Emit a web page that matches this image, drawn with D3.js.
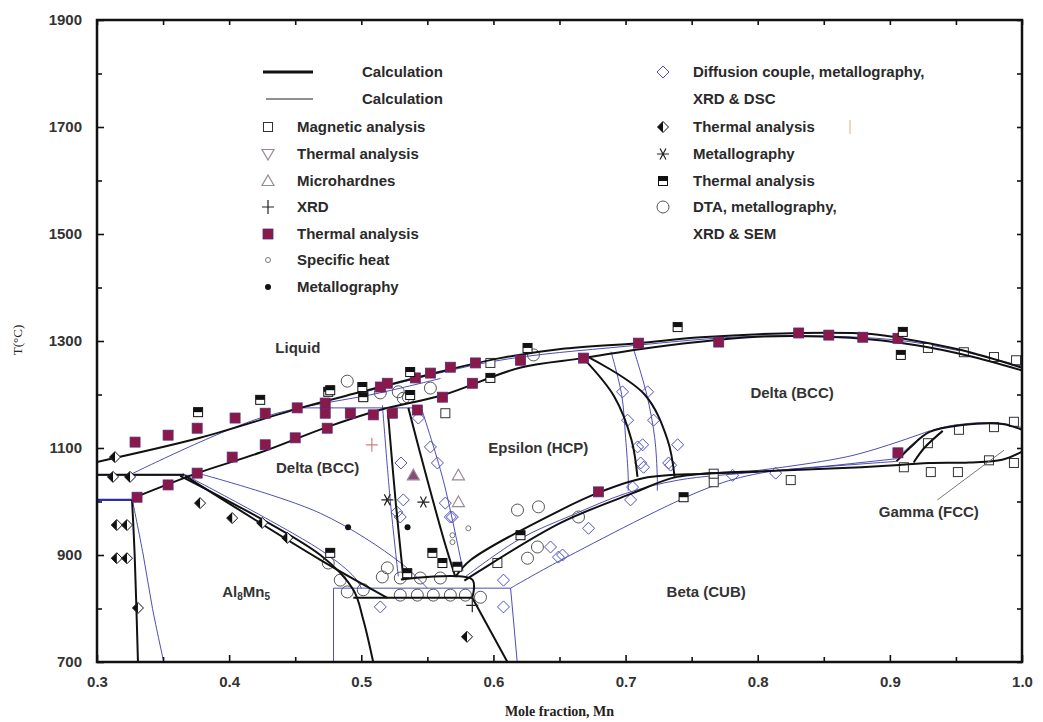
<!DOCTYPE html>
<html>
<head>
<meta charset="utf-8">
<script src="https://cdn.jsdelivr.net/npm/d3@7"></script>
<style>
body { margin: 0; background: #fff; }
text { font-family: "Liberation Sans", Arial, sans-serif; }
</style>
</head>
<body>
<svg id="chart" width="1043" height="722"></svg>
<script>
// ---- axis ticks ----
var xTicks = [0.3, 0.4, 0.5, 0.6, 0.7, 0.8, 0.9, 1.0];
var xMinor = [0.35, 0.45, 0.55, 0.65, 0.75, 0.85, 0.95];
var yTicks = [700, 900, 1100, 1300, 1500, 1700, 1900];
var yMinor = [800, 1000, 1200, 1400, 1600, 1800];

// ---- calculated boundaries, thick black (x = mole fraction Mn, T in C) ----
var liquidus = [[0.30,1074],[0.378,1119],[0.454,1175],[0.50,1205],[0.552,1238],[0.605,1268],[0.651,1285],[0.709,1296],[0.757,1307],[0.833,1315],[0.886,1313],[0.916,1302],[0.954,1283],[1.0,1250]];
var deltaSolidus = [[0.329,1008],[0.376,1053],[0.423,1091],[0.474,1139],[0.514,1171],[0.562,1199],[0.62,1250],[0.668,1268],[0.72,1288],[0.80,1308],[0.87,1306],[0.92,1292],[0.96,1272],[1.0,1245]];
var peritectic1050 = [[0.30,1050],[0.366,1050]];
var leftVertical = [[0.3265,1003],[0.3285,900],[0.331,700]];
var al8mn5Upper = [[0.3629,1048],[0.469,900],[0.494,835],[0.5015,779],[0.509,700]];
var al8mn5Lower = [[0.3667,1048],[0.469,891],[0.5197,820]];
var eutectoid820 = [[0.494,820],[0.584,820]];
var eutectoid853 = [[0.53,854],[0.584,854],[0.584,820]];
var rightLower = [[0.584,820],[0.6106,700]];
var epsLeft1 = [[0.52,1171],[0.526,1000],[0.532,853]];
var epsLeft2 = [[0.5356,1175],[0.55,1040],[0.5636,919],[0.5712,859]];
var betaUpper = [[0.5712,859],[0.583,891],[0.6508,984],[0.681,1018],[0.714,1044],[0.76,1052],[0.80,1056],[0.86,1062],[0.907,1068]];
var betaLower = [[0.578,852],[0.588,868],[0.6508,960],[0.706,1016],[0.739,1046],[0.80,1056]];
var gammaLower = [[0.907,1068],[0.93,1072],[0.96,1073],[0.985,1078],[1.0,1093]];
var gammaUpper = [[0.905,1075],[0.915,1100],[0.93,1130],[0.955,1143],[0.985,1145],[1.0,1134]];
var gammaInner = [[0.918,1073],[0.926,1100],[0.94,1132]];
var epsRight1 = [[0.668,1268],[0.6915,1196],[0.7045,1115],[0.709,1046]];
var epsRight2 = [[0.6712,1271],[0.7144,1200],[0.7318,1115],[0.7371,1046]];

// ---- calculated boundaries, thin blue ----
var bLiquidus = [[0.50,1203],[0.60,1262],[0.70,1290],[0.80,1309],[0.90,1303],[0.95,1283],[1.0,1253]];
var bPeritectic = [[0.30,1049],[0.376,1049]];
var bLow1003 = [[0.30,1003],[0.327,1003]];
var bLeftCurve = [[0.327,1000],[0.335,900],[0.342,800],[0.3505,700]];
var bToLiquidus = [[0.325,1050],[0.4235,1156],[0.514,1203],[0.56,1230]];
var b1175 = [[0.45,1175],[0.545,1175]];
var bDiag1 = [[0.376,1053],[0.469,978],[0.53,885],[0.55,838]];
var bDiag2 = [[0.365,1052],[0.47,908],[0.495,858],[0.50,838]];
var bEutectoid = [[0.479,838],[0.613,838]];
var bVert479 = [[0.479,838],[0.479,700]];
var bVert613 = [[0.613,838],[0.618,700]];
var bEps1 = [[0.516,1180],[0.522,1000],[0.528,860]];
var bEps2 = [[0.545,1178],[0.562,1040],[0.577,870]];
var bBeta1 = [[0.613,838],[0.6508,890],[0.762,1025],[0.802,1053],[0.86,1068],[0.905,1080]];
var bBeta2 = [[0.578,858],[0.62,930],[0.66,975],[0.70,1015],[0.74,1040],[0.80,1055],[0.905,1075]];
var bGamma1 = [[0.905,1080],[0.93,1130],[0.96,1146],[0.985,1146],[1.0,1138]];
var bGamma2 = [[0.78,1052],[0.87,1085],[0.93,1132]];
var bDelta1 = [[0.689,1280],[0.697,1200],[0.70,1120],[0.702,1046],[0.702,1020]];
var bDelta2 = [[0.706,1285],[0.716,1200],[0.722,1120],[0.724,1046],[0.724,1020]];

var blackCurves = [liquidus, deltaSolidus, peritectic1050, leftVertical, al8mn5Upper, al8mn5Lower,
    eutectoid820, eutectoid853, rightLower, epsLeft1, epsLeft2, betaUpper, betaLower,
    gammaLower, gammaUpper, gammaInner, epsRight1, epsRight2];
var blueCurves = [bLiquidus, bPeritectic, bToLiquidus, b1175, bDiag1, bDiag2, bEutectoid,
    bVert479, bVert613, bEps1, bEps2, bBeta1, bBeta2, bGamma1, bGamma2, bDelta1, bDelta2, bLeftCurve];

// ---- experimental points ----
var magnetic = [[0.9288,1287],[0.956,1279],[0.9788,1270],[0.9955,1264],[0.9523,1134],[0.9788,1139],[0.9939,1149],
    [0.9288,1109],[0.9106,1064],[0.931,1055],[0.9515,1055],[0.975,1077],[0.9939,1072],[0.825,1040],
    [0.7667,1036],[0.7667,1052],[0.5636,1165],[0.5977,1259],[0.603,885],[0.5015,1198]];
var microhard = [[0.5735,1049],[0.5735,999]];
var microhardFilled = [[0.5394,1049]];
var xrd = [[0.584,806]];
var xrdPink = [[0.508,1106]];
var thermalSq = [[0.3288,1111],[0.3538,1124],[0.3758,1137],[0.4045,1156],[0.4273,1165],[0.4515,1175],[0.4727,1184],
    [0.4727,1165],[0.4917,1165],[0.5091,1162],[0.4742,1137],[0.45,1119],[0.4273,1106],[0.4023,1083],[0.3758,1053],
    [0.3538,1031],[0.3303,1008],[0.5235,1165],[0.5144,1214],[0.5197,1221],[0.5409,1231],[0.5523,1240],[0.5674,1251],
    [0.5864,1259],[0.5614,1195],[0.5424,1171],[0.5841,1221],[0.6205,1264],[0.6682,1268],[0.7098,1296],[0.6795,1018],
    [0.7705,1298],[0.831,1315],[0.8538,1311],[0.8795,1307],[0.9061,1305],[0.9061,1091]];
var specificHeat = [[0.569,924],[0.569,937],[0.581,950]];
var metalloDot = [[0.490,952],[0.535,952]];
var diffusion = [[0.6977,1205],[0.7167,1205],[0.7015,1152],[0.7212,1152],[0.7091,1102],[0.7341,1068],[0.7136,1064],
    [0.7129,1106],[0.7394,1106],[0.7114,1072],[0.7326,1072],[0.7053,1027],[0.7038,1003],[0.781,1049],[0.8136,1053],
    [0.5523,1102],[0.5576,1072],[0.5318,1003],[0.5674,971],[0.6492,896],[0.672,950],[0.6076,803],[0.5144,803],
    [0.6076,853],[0.6523,900],[0.5295,971],[0.5689,971],[0.6432,915],[0.5636,997],[0.53,1072],[0.5432,1156],[0.527,980]];
var thermalHalfDiamond = [[0.3136,1083],[0.3121,1046],[0.325,1046],[0.315,956],[0.3227,956],[0.315,894],[0.3227,894],
    [0.331,801],[0.378,997],[0.4023,969],[0.425,960],[0.444,932],[0.580,747]];
var metalloStar = [[0.5197,1003],[0.547,999]];
var thermalHalfSq = [[0.3765,1167],[0.4235,1190],[0.475,1205],[0.5015,1195],[0.4765,1208],[0.5008,1214],[0.537,1242],
    [0.5977,1231],[0.537,1199],[0.6258,1287],[0.7394,1326],[0.9098,1317],[0.9083,1274],[0.7439,1008],[0.4765,904],
    [0.5538,904],[0.6205,937],[0.5614,885],[0.5727,878],[0.5348,866]];
var dta = [[0.4894,1225],[0.5144,1203],[0.528,1205],[0.5523,1212],[0.5356,1195],[0.5318,1193],[0.6182,984],[0.6341,990],
    [0.6333,915],[0.6258,894],[0.5295,825],[0.5424,825],[0.5545,825],[0.5674,825],[0.5788,825],[0.5295,857],[0.5447,857],
    [0.5598,857],[0.5159,859],[0.5197,876],[0.4894,831],[0.4841,853],[0.5902,821],[0.6644,971],[0.475,885],[0.5015,835],
    [0.6303,1274]];

// ---- labels ----
var regionLabels = [
    {text: "Liquid", x: 0.452, t: 1287},
    {text: "Delta (BCC)", x: 0.467, t: 1063},
    {text: "Epsilon (HCP)", x: 0.634, t: 1100},
    {text: "Delta (BCC)", x: 0.826, t: 1203},
    {text: "Beta (CUB)", x: 0.761, t: 831},
    {text: "Gamma (FCC)", x: 0.9295, t: 980}
];
var gammaLeader = [[0.936,1003],[0.9864,1096]];
var legendLeft = ["Calculation", "Calculation", "Magnetic analysis", "Thermal analysis", "Microhardnes", "XRD",
    "Thermal analysis", "Specific heat", "Metallography"];
var legendRight = ["Diffusion couple, metallography,", "XRD & DSC", "Thermal analysis", "Metallography",
    "Thermal analysis", "DTA, metallography,", "XRD & SEM"];

var svg = d3.select("#chart"),
    pL = 97, pR = 1022, pT = 20, pB = 662;

var x = d3.scaleLinear().domain([0.3, 1.0]).range([pL, pR]);
var y = d3.scaleLinear().domain([700, 1900]).range([pB, pT]);

var blue = "#2e2ea8", magenta = "#8a1848";

svg.append("defs").append("clipPath").attr("id", "clip")
    .append("rect").attr("x", pL).attr("y", pT)
    .attr("width", pR - pL).attr("height", pB - pT);

var plot = svg.append("g").attr("clip-path", "url(#clip)");

var line = d3.line()
    .x(function(d) { return x(d[0]); })
    .y(function(d) { return y(d[1]); })
    .curve(d3.curveCatmullRom.alpha(0.5));

// blue calc lines first, black on top
blueCurves.forEach(function(c) {
    plot.append("path").attr("d", line(c)).attr("fill", "none")
        .attr("stroke", blue).attr("stroke-width", 1).attr("opacity", 0.85);
});
plot.append("path").attr("d", line(bLow1003)).attr("fill", "none")
    .attr("stroke", blue).attr("stroke-width", 2.2);

// marker shapes
function marker(g, type, cx, cy) {
    var s;
    if (type === "openSq") {
        g.append("rect").attr("x", cx - 4.5).attr("y", cy - 4.5).attr("width", 9).attr("height", 9)
            .attr("fill", "#fff").attr("stroke", "#333").attr("stroke-width", 1);
    } else if (type === "fillSq") {
        g.append("rect").attr("x", cx - 5).attr("y", cy - 5).attr("width", 10).attr("height", 10)
            .attr("fill", magenta).attr("stroke", "#5a2a7a").attr("stroke-width", 0.8);
    } else if (type === "halfSq") {
        g.append("rect").attr("x", cx - 4.5).attr("y", cy - 4.5).attr("width", 9).attr("height", 9)
            .attr("fill", "#fff").attr("stroke", "#111").attr("stroke-width", 1);
        g.append("rect").attr("x", cx - 4.5).attr("y", cy - 4.5).attr("width", 9).attr("height", 4.5)
            .attr("fill", "#111");
    } else if (type === "diamond") {
        s = 6;
        g.append("path").attr("d", "M" + cx + "," + (cy - s) + "L" + (cx + s) + "," + cy + "L" + cx + "," + (cy + s) + "L" + (cx - s) + "," + cy + "Z")
            .attr("fill", "none").attr("stroke", "#5050c8").attr("stroke-width", 1);
    } else if (type === "halfDiamond") {
        s = 5.5;
        g.append("path").attr("d", "M" + cx + "," + (cy - s) + "L" + (cx + s) + "," + cy + "L" + cx + "," + (cy + s) + "L" + (cx - s) + "," + cy + "Z")
            .attr("fill", "#fff").attr("stroke", "#111").attr("stroke-width", 1);
        g.append("path").attr("d", "M" + cx + "," + (cy - s) + "L" + (cx - s) + "," + cy + "L" + cx + "," + (cy + s) + "Z")
            .attr("fill", "#111");
    } else if (type === "circle") {
        g.append("circle").attr("cx", cx).attr("cy", cy).attr("r", 6)
            .attr("fill", "none").attr("stroke", "#555").attr("stroke-width", 1);
    } else if (type === "smallCircle") {
        g.append("circle").attr("cx", cx).attr("cy", cy).attr("r", 2.5)
            .attr("fill", "none").attr("stroke", "#777").attr("stroke-width", 1);
    } else if (type === "dot") {
        g.append("circle").attr("cx", cx).attr("cy", cy).attr("r", 3).attr("fill", "#111");
    } else if (type === "triUp" || type === "triUpFilled") {
        g.append("path").attr("d", "M" + cx + "," + (cy - 6) + "L" + (cx + 6) + "," + (cy + 4.5) + "L" + (cx - 6) + "," + (cy + 4.5) + "Z")
            .attr("fill", type === "triUpFilled" ? "#8a4a7a" : "none").attr("stroke", "#9a8894").attr("stroke-width", 1.2);
    } else if (type === "triDown") {
        g.append("path").attr("d", "M" + cx + "," + (cy + 6) + "L" + (cx + 6) + "," + (cy - 4.5) + "L" + (cx - 6) + "," + (cy - 4.5) + "Z")
            .attr("fill", "none").attr("stroke", "#9a8894").attr("stroke-width", 1.2);
    } else if (type === "plus" || type === "plusPink") {
        g.append("path").attr("d", "M" + (cx - 6) + "," + cy + "H" + (cx + 6) + "M" + cx + "," + (cy - 7) + "V" + (cy + 7))
            .attr("stroke", type === "plusPink" ? "#d08080" : "#222").attr("stroke-width", 1.2);
    } else if (type === "star") {
        var p = "M" + (cx - 6) + "," + cy + "H" + (cx + 6)
            + "M" + (cx - 3) + "," + (cy - 5.5) + "L" + (cx + 3) + "," + (cy + 5.5)
            + "M" + (cx + 3) + "," + (cy - 5.5) + "L" + (cx - 3) + "," + (cy + 5.5);
        g.append("path").attr("d", p).attr("stroke", "#222").attr("stroke-width", 1.2);
    }
}

function drawSet(data, type) {
    var g = plot.append("g");
    data.forEach(function(d) { marker(g, type, x(d[0]), y(d[1])); });
}

drawSet(dta, "circle");
drawSet(diffusion, "diamond");
drawSet(magnetic, "openSq");
drawSet(specificHeat, "smallCircle");

blackCurves.forEach(function(c) {
    plot.append("path").attr("d", line(c)).attr("fill", "none")
        .attr("stroke", "#111").attr("stroke-width", 2).attr("stroke-linejoin", "round");
});

drawSet(thermalSq, "fillSq");
drawSet(thermalHalfSq, "halfSq");
drawSet(thermalHalfDiamond, "halfDiamond");
drawSet(metalloDot, "dot");
drawSet(metalloStar, "star");
drawSet(microhard, "triUp");
drawSet(microhardFilled, "triUpFilled");
drawSet(xrd, "plus");
drawSet(xrdPink, "plusPink");

// gamma leader line
plot.append("path").attr("d", d3.line().x(function(d) { return x(d[0]); }).y(function(d) { return y(d[1]); })(gammaLeader))
    .attr("stroke", "#777").attr("stroke-width", 1);

// region labels
regionLabels.forEach(function(l) {
    svg.append("text").attr("x", x(l.x)).attr("y", y(l.t) + 5)
        .attr("text-anchor", "middle").attr("font-size", 15).attr("font-weight", "bold")
        .attr("fill", "#333").text(l.text);
});
var alLabel = svg.append("text").attr("x", x(0.4129)).attr("y", y(831) + 5)
    .attr("text-anchor", "middle").attr("font-size", 15).attr("font-weight", "bold").attr("fill", "#333");
alLabel.append("tspan").text("Al");
alLabel.append("tspan").attr("font-size", 10).attr("dy", 3).text("8");
alLabel.append("tspan").attr("dy", -3).text("Mn");
alLabel.append("tspan").attr("font-size", 10).attr("dy", 3).text("5");

// axes, ticks inside
var axB = svg.append("g").attr("transform", "translate(0," + pB + ")")
    .call(d3.axisBottom(x).tickValues(xTicks).tickSizeInner(-7).tickSizeOuter(0).tickPadding(14)
        .tickFormat(d3.format(".1f")));
svg.append("g").attr("transform", "translate(0," + pB + ")")
    .call(d3.axisBottom(x).tickValues(xMinor).tickSizeInner(-5).tickSizeOuter(0).tickFormat(""));
svg.append("g").attr("transform", "translate(0," + pT + ")")
    .call(d3.axisTop(x).tickValues(xTicks.concat(xMinor)).tickSizeInner(-5).tickSizeOuter(0).tickFormat(""));
var axL = svg.append("g").attr("transform", "translate(" + pL + ",0)")
    .call(d3.axisLeft(y).tickValues(yTicks).tickSizeInner(-7).tickSizeOuter(0).tickPadding(15)
        .tickFormat(d3.format("d")));
svg.append("g").attr("transform", "translate(" + pL + ",0)")
    .call(d3.axisLeft(y).tickValues(yMinor).tickSizeInner(-5).tickSizeOuter(0).tickFormat(""));
svg.append("g").attr("transform", "translate(" + pR + ",0)")
    .call(d3.axisRight(y).tickValues(yTicks.concat(yMinor)).tickSizeInner(-5).tickSizeOuter(0).tickFormat(""));

svg.selectAll(".domain").remove();
svg.selectAll(".tick line").attr("stroke", "#111").attr("stroke-width", 1.6);
[axB, axL].forEach(function(a) {
    a.selectAll("text").attr("font-size", 15).attr("font-weight", "bold").attr("fill", "#333")
        .style("font-family", "'Liberation Sans', Arial, sans-serif");
});

svg.append("rect").attr("x", pL).attr("y", pT).attr("width", pR - pL).attr("height", pB - pT)
    .attr("fill", "none").attr("stroke", "#111").attr("stroke-width", 2.5);

// axis titles
svg.append("text").attr("transform", "translate(22," + 340 + ") rotate(-90)")
    .attr("text-anchor", "middle").attr("font-size", 13)
    .style("font-family", "'Liberation Serif', 'DejaVu Serif', serif").attr("fill", "#222").text("T(°C)");
svg.append("text").attr("x", (pL + pR) / 2).attr("y", 716)
    .attr("text-anchor", "middle").attr("font-size", 14).attr("font-weight", "bold")
    .style("font-family", "'Liberation Serif', 'DejaVu Serif', serif").attr("fill", "#222").text("Mole fraction, Mn");

// legend
var lg = svg.append("g");
var rowY = [72, 99, 127, 154, 181, 207, 234, 260, 287];
lg.append("line").attr("x1", 263).attr("x2", 313).attr("y1", rowY[0]).attr("y2", rowY[0])
    .attr("stroke", "#111").attr("stroke-width", 3);
lg.append("line").attr("x1", 266).attr("x2", 313).attr("y1", rowY[1]).attr("y2", rowY[1])
    .attr("stroke", "#6a6a7a").attr("stroke-width", 1.5);
var leftTypes = [null, null, "openSq", "triDown", "triUp", "plus", "fillSq", "smallCircle", "dot"];
legendLeft.forEach(function(t, i) {
    var tx = i < 2 ? 362 : 297;
    lg.append("text").attr("x", tx).attr("y", rowY[i] + 5).attr("font-size", 15).attr("font-weight", "bold")
        .attr("fill", "#2a2a2a").text(t);
    if (leftTypes[i]) marker(lg, leftTypes[i], 268, rowY[i]);
});
var rightTypes = ["diamond", null, "halfDiamond", "star", "halfSq", "circle", null];
legendRight.forEach(function(t, i) {
    lg.append("text").attr("x", 693).attr("y", rowY[i] + 5).attr("font-size", 15).attr("font-weight", "bold")
        .attr("fill", "#2a2a2a").text(t);
    if (rightTypes[i]) marker(lg, rightTypes[i], 663, rowY[i]);
});
lg.append("line").attr("x1", 850).attr("x2", 850).attr("y1", 120).attr("y2", 134)
    .attr("stroke", "#e8b070").attr("stroke-width", 1);
</script>
</body>
</html>
